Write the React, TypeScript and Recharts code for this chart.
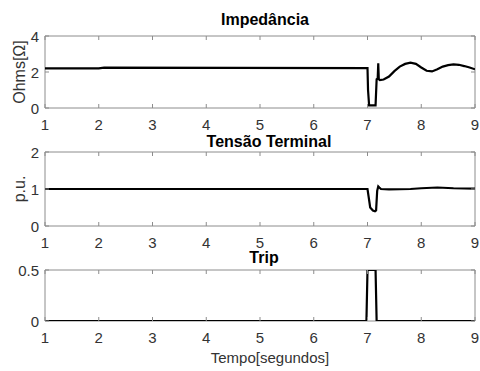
import React from 'react';
import { LineChart, Line, XAxis, YAxis, ReferenceArea } from 'recharts';

// time axis (seconds)
const timeTicks = [1, 2, 3, 4, 5, 6, 7, 8, 9];

// Impedância (Ohms)
const impTime = [1, 2, 2.1, 7.0, 7.01, 7.03, 7.15, 7.17, 7.19, 7.2, 7.21, 7.23, 7.3, 7.4, 7.5, 7.6, 7.7, 7.8, 7.9, 8.0, 8.1, 8.2, 8.3, 8.4, 8.5, 8.6, 8.7, 8.8, 8.9, 9.0];
const impOhms = [2.2, 2.2, 2.24, 2.22, 1.0, 0.15, 0.15, 1.6, 1.65, 2.48, 1.6, 1.55, 1.58, 1.75, 2.05, 2.3, 2.45, 2.52, 2.45, 2.25, 2.07, 2.03, 2.15, 2.3, 2.38, 2.42, 2.4, 2.33, 2.25, 2.15];
const impTicks = [0, 2, 4];

// Tensão Terminal (p.u.)
const voltTime = [1, 7.0, 7.02, 7.05, 7.1, 7.14, 7.16, 7.18, 7.2, 7.22, 7.25, 7.4, 7.8, 8.0, 8.3, 8.6, 9.0];
const voltPu = [1.0, 1.0, 0.8, 0.5, 0.42, 0.4, 0.42, 0.95, 1.07, 1.04, 1.0, 0.99, 1.0, 1.02, 1.04, 1.02, 1.01];
const voltTicks = [0, 1, 2];

// Trip
const tripTime = [1, 6.98, 7.0, 7.15, 7.17, 9];
const tripVal = [0, 0, 0.5, 0.5, 0, 0];
const tripTicks = [0, 0.5];

const toRows = (t: number[], v: number[]) => t.map((x, i) => ({ t: x, v: v[i] }));

const FONT = '"Liberation Sans", Arial, sans-serif';
const FRAME = '#8c8c8c';
const TXT = '#333';
const PLOT_W = 430;

interface PanelProps {
  top: number;
  height: number;
  mTop: number;
  axisH: number;
  rows: { t: number; v: number }[];
  yTicks: number[];
  yMax: number;
  title: string;
  titleX: number;
  titleY: number;
  yLabel?: string;
  yLabelY?: number;
  xLabel?: string;
}

function Panel(p: PanelProps) {
  const plotH = p.height - p.mTop - p.axisH;

  const XTick = (props: any) => {
    const { x, y, payload } = props;
    return (
      <g>
        <line x1={x} x2={x} y1={y} y2={y - 4} stroke={FRAME} />
        <line x1={x} x2={x} y1={y - plotH} y2={y - plotH + 4} stroke={FRAME} />
        <text x={x} y={y + 16} textAnchor="middle" dominantBaseline="central" fontSize={15} fontFamily={FONT} fill={TXT}>
          {payload.value}
        </text>
      </g>
    );
  };

  const YTick = (props: any) => {
    const { x, y, payload } = props;
    return (
      <g>
        <line x1={x} x2={x + 4} y1={y} y2={y} stroke={FRAME} />
        <line x1={x + PLOT_W} x2={x + PLOT_W - 4} y1={y} y2={y} stroke={FRAME} />
        <text x={x - 6} y={y} textAnchor="end" dominantBaseline="central" fontSize={15} fontFamily={FONT} fill={TXT}>
          {payload.value}
        </text>
      </g>
    );
  };

  return (
    <div style={{ position: 'absolute', left: 0, top: p.top }}>
      <LineChart width={480} height={p.height} data={p.rows} margin={{ top: p.mTop, right: 5, bottom: 0, left: 0 }}>
        <XAxis dataKey="t" type="number" domain={[1, 9]} ticks={timeTicks} interval={0} allowDataOverflow
          height={p.axisH} tickSize={0} tickMargin={0} axisLine={false} tickLine={false} tick={XTick} />
        <YAxis type="number" domain={[0, p.yMax]} ticks={p.yTicks} interval={0} allowDataOverflow
          width={45} tickSize={0} tickMargin={0} axisLine={false} tickLine={false} tick={YTick} />
        <ReferenceArea x1={1} x2={9} y1={0} y2={p.yMax} fill="none" stroke={FRAME} strokeWidth={1} ifOverflow="visible" />
        <Line dataKey="v" type="linear" stroke="#000" strokeWidth={2.2} dot={false} isAnimationActive={false} />
        <text x={p.titleX} y={p.titleY} textAnchor="middle" fontSize={16} fontWeight="bold" fontFamily={FONT} fill="#000">
          {p.title}
        </text>
        {p.yLabel && (
          <text x={19} y={p.yLabelY} textAnchor="middle" dominantBaseline="central" fontSize={16} fontFamily={FONT} fill={TXT}
            transform={`rotate(-90 19 ${p.yLabelY})`}>
            {p.yLabel}
          </text>
        )}
        {p.xLabel && (
          <text x={270} y={117} textAnchor="middle" fontSize={15} fontFamily={FONT} fill={TXT}>
            {p.xLabel}
          </text>
        )}
      </LineChart>
    </div>
  );
}

export default function App() {
  return (
    <div style={{ position: 'absolute', left: 0, top: 0, width: 480, height: 371, background: '#fff' }}>
      <Panel top={0} height={140} mTop={36} axisH={32} rows={toRows(impTime, impOhms)} yTicks={impTicks} yMax={4}
        title="Impedância" titleX={265} titleY={25} yLabel="Ohms[Ω]" yLabelY={72} />
      <Panel top={128} height={130} mTop={24} axisH={32} rows={toRows(voltTime, voltPu)} yTicks={voltTicks} yMax={2}
        title="Tensão Terminal" titleX={269} titleY={19} yLabel="p.u." yLabelY={61} />
      <Panel top={246} height={125} mTop={24} axisH={50} rows={toRows(tripTime, tripVal)} yTicks={tripTicks} yMax={0.5}
        title="Trip" titleX={264} titleY={17} xLabel="Tempo[segundos]" />
    </div>
  );
}
